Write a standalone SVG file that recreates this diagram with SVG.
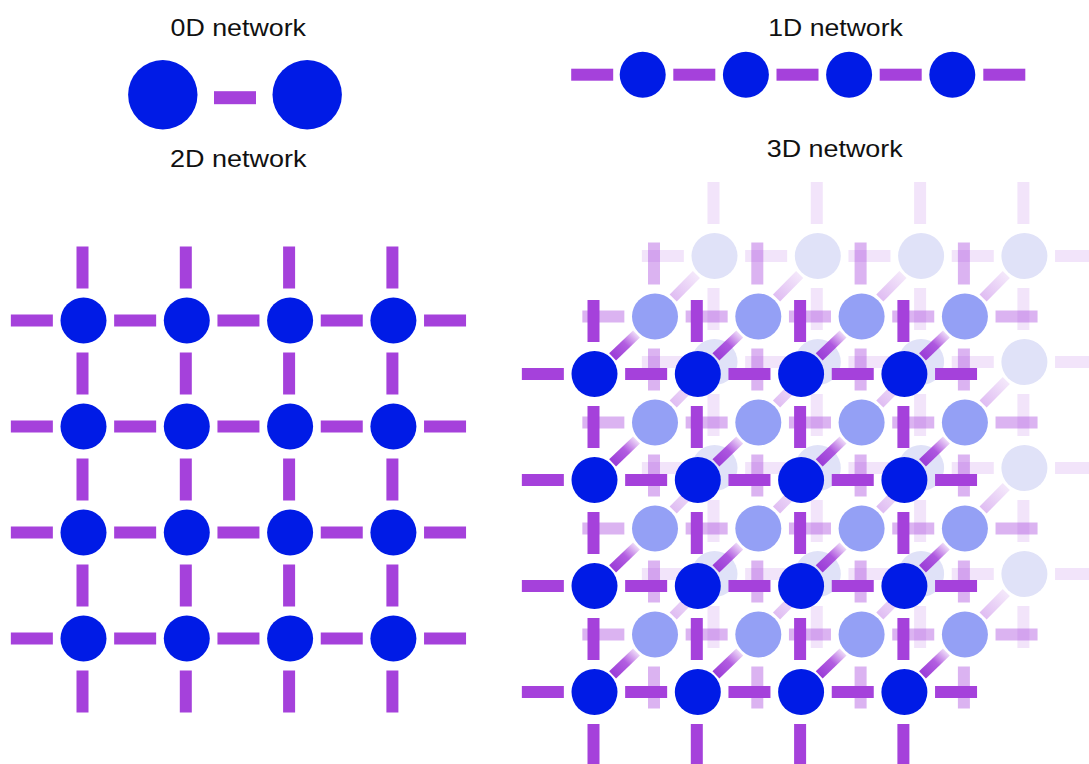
<svg xmlns="http://www.w3.org/2000/svg" xmlns:xlink="http://www.w3.org/1999/xlink" width="1089" height="764" viewBox="0 0 1089 764">
<style>
.lbl{font-family:"Liberation Sans",Arial,sans-serif;font-size:24px;fill:#111}
.bar{fill:#a541db}
.bar-mid{fill:#a541db;fill-opacity:0.4}
.bar-back{fill:#a541db;fill-opacity:0.14}
.node{fill:#001be6}
.node-mid{fill:#94a0f5}
.node-back{fill:#e0e2f8}
.diag-front{stroke:url(#gFront);stroke-width:10;fill:none}
.diag-mid{stroke:url(#gMid);stroke-width:10;fill:none}
</style>
<defs>
<rect id="hb" width="42" height="12"/>
<rect id="vb" width="12" height="42"/>
<linearGradient id="gFront" x1="0" y1="1" x2="1" y2="0">
<stop offset="0" stop-color="#9a3dd7"/>
<stop offset="0.55" stop-color="#a541db" stop-opacity="0.85"/>
<stop offset="1" stop-color="#a541db" stop-opacity="0.2"/>
</linearGradient>
<linearGradient id="gMid" x1="0" y1="1" x2="1" y2="0">
<stop offset="0" stop-color="#a541db" stop-opacity="0.35"/>
<stop offset="1" stop-color="#a541db" stop-opacity="0.12"/>
</linearGradient>
</defs>
<rect width="1089" height="764" fill="#fff"/>

<g id="labels">
<text class="lbl" x="170.5" y="36" textLength="135.5" lengthAdjust="spacingAndGlyphs">0D network</text>
<text class="lbl" x="768.3" y="35.5" textLength="134.5" lengthAdjust="spacingAndGlyphs">1D network</text>
<text class="lbl" x="170" y="166.5" textLength="136.5" lengthAdjust="spacingAndGlyphs">2D network</text>
<text class="lbl" x="766.7" y="156.5" textLength="136" lengthAdjust="spacingAndGlyphs">3D network</text>
</g>

<!-- 0D -->
<g id="connectors-0d"><rect class="bar" x="214" y="91.2" width="42" height="13"/></g>
<g id="n0d-1"><circle class="node" cx="162.8" cy="94.7" r="34.7"/></g>
<g id="n0d-2"><circle class="node" cx="307.2" cy="94.7" r="34.7"/></g>

<!-- 1D -->
<g id="connectors-1d" class="bar">
<use href="#hb" x="571.2" y="68.7"/><use href="#hb" x="673.3" y="68.7"/><use href="#hb" x="776.5" y="68.7"/><use href="#hb" x="879.7" y="68.7"/><use href="#hb" x="983.3" y="68.7"/>
</g>
<g id="n1d-1"><circle class="node" cx="642.7" cy="74.7" r="23"/></g>
<g id="n1d-2"><circle class="node" cx="745.9" cy="74.7" r="23"/></g>
<g id="n1d-3"><circle class="node" cx="849.1" cy="74.7" r="23"/></g>
<g id="n1d-4"><circle class="node" cx="952.3" cy="74.7" r="23"/></g>

<!-- 2D -->
<g id="connectors-2d" class="bar">
<use href="#hb" x="10.85" y="314.5"/><use href="#hb" x="114.15" y="314.5"/><use href="#hb" x="217.45" y="314.5"/><use href="#hb" x="320.75" y="314.5"/><use href="#hb" x="424.05" y="314.5"/>
<use href="#hb" x="10.85" y="420.5"/><use href="#hb" x="114.15" y="420.5"/><use href="#hb" x="217.45" y="420.5"/><use href="#hb" x="320.75" y="420.5"/><use href="#hb" x="424.05" y="420.5"/>
<use href="#hb" x="10.85" y="526.5"/><use href="#hb" x="114.15" y="526.5"/><use href="#hb" x="217.45" y="526.5"/><use href="#hb" x="320.75" y="526.5"/><use href="#hb" x="424.05" y="526.5"/>
<use href="#hb" x="10.85" y="632.5"/><use href="#hb" x="114.15" y="632.5"/><use href="#hb" x="217.45" y="632.5"/><use href="#hb" x="320.75" y="632.5"/><use href="#hb" x="424.05" y="632.5"/>
<use href="#vb" x="76.5" y="246.5"/><use href="#vb" x="76.5" y="352.5"/><use href="#vb" x="76.5" y="458.5"/><use href="#vb" x="76.5" y="564.5"/><use href="#vb" x="76.5" y="670.5"/>
<use href="#vb" x="179.8" y="246.5"/><use href="#vb" x="179.8" y="352.5"/><use href="#vb" x="179.8" y="458.5"/><use href="#vb" x="179.8" y="564.5"/><use href="#vb" x="179.8" y="670.5"/>
<use href="#vb" x="283.1" y="246.5"/><use href="#vb" x="283.1" y="352.5"/><use href="#vb" x="283.1" y="458.5"/><use href="#vb" x="283.1" y="564.5"/><use href="#vb" x="283.1" y="670.5"/>
<use href="#vb" x="386.4" y="246.5"/><use href="#vb" x="386.4" y="352.5"/><use href="#vb" x="386.4" y="458.5"/><use href="#vb" x="386.4" y="564.5"/><use href="#vb" x="386.4" y="670.5"/>
</g>
<g id="n2d-1-1"><circle class="node" cx="83.5" cy="320.5" r="23"/></g>
<g id="n2d-1-2"><circle class="node" cx="186.8" cy="320.5" r="23"/></g>
<g id="n2d-1-3"><circle class="node" cx="290.1" cy="320.5" r="23"/></g>
<g id="n2d-1-4"><circle class="node" cx="393.4" cy="320.5" r="23"/></g>
<g id="n2d-2-1"><circle class="node" cx="83.5" cy="426.5" r="23"/></g>
<g id="n2d-2-2"><circle class="node" cx="186.8" cy="426.5" r="23"/></g>
<g id="n2d-2-3"><circle class="node" cx="290.1" cy="426.5" r="23"/></g>
<g id="n2d-2-4"><circle class="node" cx="393.4" cy="426.5" r="23"/></g>
<g id="n2d-3-1"><circle class="node" cx="83.5" cy="532.5" r="23"/></g>
<g id="n2d-3-2"><circle class="node" cx="186.8" cy="532.5" r="23"/></g>
<g id="n2d-3-3"><circle class="node" cx="290.1" cy="532.5" r="23"/></g>
<g id="n2d-3-4"><circle class="node" cx="393.4" cy="532.5" r="23"/></g>
<g id="n2d-4-1"><circle class="node" cx="83.5" cy="638.5" r="23"/></g>
<g id="n2d-4-2"><circle class="node" cx="186.8" cy="638.5" r="23"/></g>
<g id="n2d-4-3"><circle class="node" cx="290.1" cy="638.5" r="23"/></g>
<g id="n2d-4-4"><circle class="node" cx="393.4" cy="638.5" r="23"/></g>

<!-- 3D back layer -->
<g id="connectors-3d-back" class="bar-back">
<use href="#hb" x="641.85" y="250"/><use href="#hb" x="745.15" y="250"/><use href="#hb" x="848.45" y="250"/><use href="#hb" x="951.75" y="250"/><use href="#hb" x="1055.05" y="250"/>
<use href="#hb" x="641.85" y="356"/><use href="#hb" x="745.15" y="356"/><use href="#hb" x="848.45" y="356"/><use href="#hb" x="951.75" y="356"/><use href="#hb" x="1055.05" y="356"/>
<use href="#hb" x="641.85" y="462"/><use href="#hb" x="745.15" y="462"/><use href="#hb" x="848.45" y="462"/><use href="#hb" x="951.75" y="462"/><use href="#hb" x="1055.05" y="462"/>
<use href="#hb" x="641.85" y="568"/><use href="#hb" x="745.15" y="568"/><use href="#hb" x="848.45" y="568"/><use href="#hb" x="951.75" y="568"/><use href="#hb" x="1055.05" y="568"/>
<use href="#vb" x="707.5" y="182"/><use href="#vb" x="707.5" y="288"/><use href="#vb" x="707.5" y="394"/><use href="#vb" x="707.5" y="500"/><use href="#vb" x="707.5" y="606"/>
<use href="#vb" x="810.8" y="182"/><use href="#vb" x="810.8" y="288"/><use href="#vb" x="810.8" y="394"/><use href="#vb" x="810.8" y="500"/><use href="#vb" x="810.8" y="606"/>
<use href="#vb" x="914.1" y="182"/><use href="#vb" x="914.1" y="288"/><use href="#vb" x="914.1" y="394"/><use href="#vb" x="914.1" y="500"/><use href="#vb" x="914.1" y="606"/>
<use href="#vb" x="1017.4" y="182"/><use href="#vb" x="1017.4" y="288"/><use href="#vb" x="1017.4" y="394"/><use href="#vb" x="1017.4" y="500"/><use href="#vb" x="1017.4" y="606"/>
</g>
<g id="n3d-b-1-1"><circle class="node-back" cx="714.5" cy="256" r="23"/></g>
<g id="n3d-b-1-2"><circle class="node-back" cx="817.8" cy="256" r="23"/></g>
<g id="n3d-b-1-3"><circle class="node-back" cx="921.1" cy="256" r="23"/></g>
<g id="n3d-b-1-4"><circle class="node-back" cx="1024.4" cy="256" r="23"/></g>
<g id="n3d-b-2-1"><circle class="node-back" cx="714.5" cy="362" r="23"/></g>
<g id="n3d-b-2-2"><circle class="node-back" cx="817.8" cy="362" r="23"/></g>
<g id="n3d-b-2-3"><circle class="node-back" cx="921.1" cy="362" r="23"/></g>
<g id="n3d-b-2-4"><circle class="node-back" cx="1024.4" cy="362" r="23"/></g>
<g id="n3d-b-3-1"><circle class="node-back" cx="714.5" cy="468" r="23"/></g>
<g id="n3d-b-3-2"><circle class="node-back" cx="817.8" cy="468" r="23"/></g>
<g id="n3d-b-3-3"><circle class="node-back" cx="921.1" cy="468" r="23"/></g>
<g id="n3d-b-3-4"><circle class="node-back" cx="1024.4" cy="468" r="23"/></g>
<g id="n3d-b-4-1"><circle class="node-back" cx="714.5" cy="574" r="23"/></g>
<g id="n3d-b-4-2"><circle class="node-back" cx="817.8" cy="574" r="23"/></g>
<g id="n3d-b-4-3"><circle class="node-back" cx="921.1" cy="574" r="23"/></g>
<g id="n3d-b-4-4"><circle class="node-back" cx="1024.4" cy="574" r="23"/></g>

<!-- middle-to-back diagonals -->
<g id="connectors-3d-mid-back" class="diag-mid">
<line x1="673.2" y1="298" x2="696.4" y2="274.4"/><line x1="776.5" y1="298" x2="799.7" y2="274.4"/><line x1="879.8" y1="298" x2="903" y2="274.4"/><line x1="983.1" y1="298" x2="1006.3" y2="274.4"/>
<line x1="673.2" y1="404" x2="696.4" y2="380.4"/><line x1="776.5" y1="404" x2="799.7" y2="380.4"/><line x1="879.8" y1="404" x2="903" y2="380.4"/><line x1="983.1" y1="404" x2="1006.3" y2="380.4"/>
<line x1="673.2" y1="510" x2="696.4" y2="486.4"/><line x1="776.5" y1="510" x2="799.7" y2="486.4"/><line x1="879.8" y1="510" x2="903" y2="486.4"/><line x1="983.1" y1="510" x2="1006.3" y2="486.4"/>
<line x1="673.2" y1="616" x2="696.4" y2="592.4"/><line x1="776.5" y1="616" x2="799.7" y2="592.4"/><line x1="879.8" y1="616" x2="903" y2="592.4"/><line x1="983.1" y1="616" x2="1006.3" y2="592.4"/>
</g>

<!-- 3D middle layer -->
<g id="connectors-3d-mid" class="bar-mid">
<use href="#hb" x="582.35" y="310.5"/><use href="#hb" x="685.65" y="310.5"/><use href="#hb" x="788.95" y="310.5"/><use href="#hb" x="892.25" y="310.5"/><use href="#hb" x="995.55" y="310.5"/>
<use href="#hb" x="582.35" y="416.5"/><use href="#hb" x="685.65" y="416.5"/><use href="#hb" x="788.95" y="416.5"/><use href="#hb" x="892.25" y="416.5"/><use href="#hb" x="995.55" y="416.5"/>
<use href="#hb" x="582.35" y="522.5"/><use href="#hb" x="685.65" y="522.5"/><use href="#hb" x="788.95" y="522.5"/><use href="#hb" x="892.25" y="522.5"/><use href="#hb" x="995.55" y="522.5"/>
<use href="#hb" x="582.35" y="628.5"/><use href="#hb" x="685.65" y="628.5"/><use href="#hb" x="788.95" y="628.5"/><use href="#hb" x="892.25" y="628.5"/><use href="#hb" x="995.55" y="628.5"/>
<use href="#vb" x="648" y="242.5"/><use href="#vb" x="648" y="348.5"/><use href="#vb" x="648" y="454.5"/><use href="#vb" x="648" y="560.5"/><use href="#vb" x="648" y="666.5"/>
<use href="#vb" x="751.3" y="242.5"/><use href="#vb" x="751.3" y="348.5"/><use href="#vb" x="751.3" y="454.5"/><use href="#vb" x="751.3" y="560.5"/><use href="#vb" x="751.3" y="666.5"/>
<use href="#vb" x="854.6" y="242.5"/><use href="#vb" x="854.6" y="348.5"/><use href="#vb" x="854.6" y="454.5"/><use href="#vb" x="854.6" y="560.5"/><use href="#vb" x="854.6" y="666.5"/>
<use href="#vb" x="957.9" y="242.5"/><use href="#vb" x="957.9" y="348.5"/><use href="#vb" x="957.9" y="454.5"/><use href="#vb" x="957.9" y="560.5"/><use href="#vb" x="957.9" y="666.5"/>
</g>
<g id="n3d-m-1-1"><circle class="node-mid" cx="655" cy="316.5" r="23"/></g>
<g id="n3d-m-1-2"><circle class="node-mid" cx="758.3" cy="316.5" r="23"/></g>
<g id="n3d-m-1-3"><circle class="node-mid" cx="861.6" cy="316.5" r="23"/></g>
<g id="n3d-m-1-4"><circle class="node-mid" cx="964.9" cy="316.5" r="23"/></g>
<g id="n3d-m-2-1"><circle class="node-mid" cx="655" cy="422.5" r="23"/></g>
<g id="n3d-m-2-2"><circle class="node-mid" cx="758.3" cy="422.5" r="23"/></g>
<g id="n3d-m-2-3"><circle class="node-mid" cx="861.6" cy="422.5" r="23"/></g>
<g id="n3d-m-2-4"><circle class="node-mid" cx="964.9" cy="422.5" r="23"/></g>
<g id="n3d-m-3-1"><circle class="node-mid" cx="655" cy="528.5" r="23"/></g>
<g id="n3d-m-3-2"><circle class="node-mid" cx="758.3" cy="528.5" r="23"/></g>
<g id="n3d-m-3-3"><circle class="node-mid" cx="861.6" cy="528.5" r="23"/></g>
<g id="n3d-m-3-4"><circle class="node-mid" cx="964.9" cy="528.5" r="23"/></g>
<g id="n3d-m-4-1"><circle class="node-mid" cx="655" cy="634.5" r="23"/></g>
<g id="n3d-m-4-2"><circle class="node-mid" cx="758.3" cy="634.5" r="23"/></g>
<g id="n3d-m-4-3"><circle class="node-mid" cx="861.6" cy="634.5" r="23"/></g>
<g id="n3d-m-4-4"><circle class="node-mid" cx="964.9" cy="634.5" r="23"/></g>

<!-- front-to-middle diagonals -->
<g id="connectors-3d-front-mid" class="diag-front">
<line x1="612.6" y1="356.8" x2="636.5" y2="334"/><line x1="715.9" y1="356.8" x2="739.8" y2="334"/><line x1="819.2" y1="356.8" x2="843.1" y2="334"/><line x1="922.5" y1="356.8" x2="946.4" y2="334"/>
<line x1="612.6" y1="462.8" x2="636.5" y2="440"/><line x1="715.9" y1="462.8" x2="739.8" y2="440"/><line x1="819.2" y1="462.8" x2="843.1" y2="440"/><line x1="922.5" y1="462.8" x2="946.4" y2="440"/>
<line x1="612.6" y1="568.8" x2="636.5" y2="546"/><line x1="715.9" y1="568.8" x2="739.8" y2="546"/><line x1="819.2" y1="568.8" x2="843.1" y2="546"/><line x1="922.5" y1="568.8" x2="946.4" y2="546"/>
<line x1="612.6" y1="674.8" x2="636.5" y2="652"/><line x1="715.9" y1="674.8" x2="739.8" y2="652"/><line x1="819.2" y1="674.8" x2="843.1" y2="652"/><line x1="922.5" y1="674.8" x2="946.4" y2="652"/>
</g>

<!-- 3D front layer -->
<g id="connectors-3d-front" class="bar">
<use href="#hb" x="521.85" y="368"/><use href="#hb" x="625.15" y="368"/><use href="#hb" x="728.45" y="368"/><use href="#hb" x="831.75" y="368"/><use href="#hb" x="935.05" y="368"/>
<use href="#hb" x="521.85" y="474"/><use href="#hb" x="625.15" y="474"/><use href="#hb" x="728.45" y="474"/><use href="#hb" x="831.75" y="474"/><use href="#hb" x="935.05" y="474"/>
<use href="#hb" x="521.85" y="580"/><use href="#hb" x="625.15" y="580"/><use href="#hb" x="728.45" y="580"/><use href="#hb" x="831.75" y="580"/><use href="#hb" x="935.05" y="580"/>
<use href="#hb" x="521.85" y="686"/><use href="#hb" x="625.15" y="686"/><use href="#hb" x="728.45" y="686"/><use href="#hb" x="831.75" y="686"/><use href="#hb" x="935.05" y="686"/>
<use href="#vb" x="587.5" y="300"/><use href="#vb" x="587.5" y="406"/><use href="#vb" x="587.5" y="512"/><use href="#vb" x="587.5" y="618"/><use href="#vb" x="587.5" y="724"/>
<use href="#vb" x="690.8" y="300"/><use href="#vb" x="690.8" y="406"/><use href="#vb" x="690.8" y="512"/><use href="#vb" x="690.8" y="618"/><use href="#vb" x="690.8" y="724"/>
<use href="#vb" x="794.1" y="300"/><use href="#vb" x="794.1" y="406"/><use href="#vb" x="794.1" y="512"/><use href="#vb" x="794.1" y="618"/><use href="#vb" x="794.1" y="724"/>
<use href="#vb" x="897.4" y="300"/><use href="#vb" x="897.4" y="406"/><use href="#vb" x="897.4" y="512"/><use href="#vb" x="897.4" y="618"/><use href="#vb" x="897.4" y="724"/>
</g>
<g id="n3d-f-1-1"><circle class="node" cx="594.5" cy="374" r="23"/></g>
<g id="n3d-f-1-2"><circle class="node" cx="697.8" cy="374" r="23"/></g>
<g id="n3d-f-1-3"><circle class="node" cx="801.1" cy="374" r="23"/></g>
<g id="n3d-f-1-4"><circle class="node" cx="904.4" cy="374" r="23"/></g>
<g id="n3d-f-2-1"><circle class="node" cx="594.5" cy="480" r="23"/></g>
<g id="n3d-f-2-2"><circle class="node" cx="697.8" cy="480" r="23"/></g>
<g id="n3d-f-2-3"><circle class="node" cx="801.1" cy="480" r="23"/></g>
<g id="n3d-f-2-4"><circle class="node" cx="904.4" cy="480" r="23"/></g>
<g id="n3d-f-3-1"><circle class="node" cx="594.5" cy="586" r="23"/></g>
<g id="n3d-f-3-2"><circle class="node" cx="697.8" cy="586" r="23"/></g>
<g id="n3d-f-3-3"><circle class="node" cx="801.1" cy="586" r="23"/></g>
<g id="n3d-f-3-4"><circle class="node" cx="904.4" cy="586" r="23"/></g>
<g id="n3d-f-4-1"><circle class="node" cx="594.5" cy="692" r="23"/></g>
<g id="n3d-f-4-2"><circle class="node" cx="697.8" cy="692" r="23"/></g>
<g id="n3d-f-4-3"><circle class="node" cx="801.1" cy="692" r="23"/></g>
<g id="n3d-f-4-4"><circle class="node" cx="904.4" cy="692" r="23"/></g>
</svg>
